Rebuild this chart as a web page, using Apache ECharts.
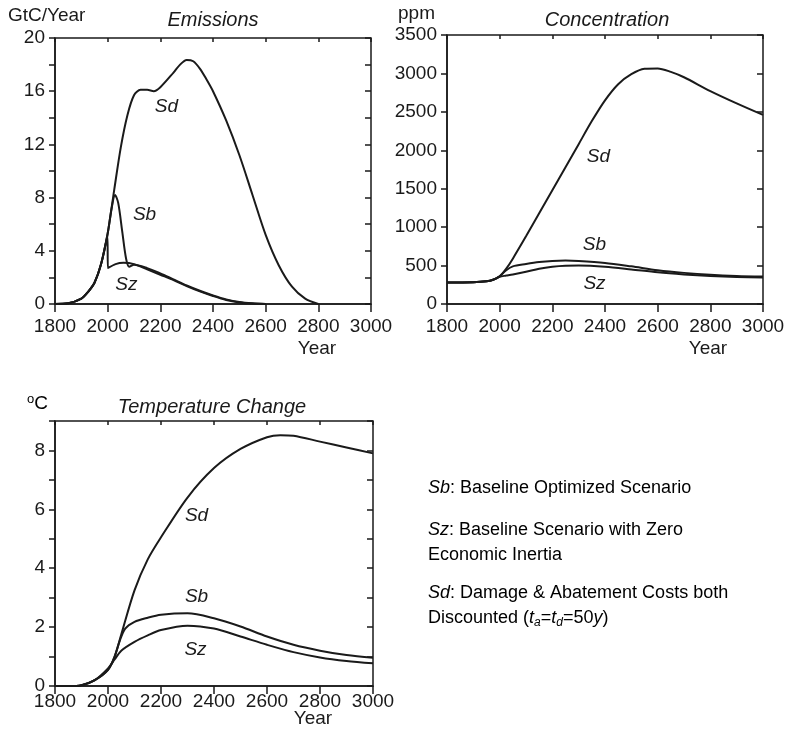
<!DOCTYPE html>
<html>
<head>
<meta charset="utf-8">
<script src="https://cdn.jsdelivr.net/npm/echarts@6/dist/echarts.min.js"></script>
<style>html,body{margin:0;padding:0;background:#fff;}#c{width:791px;height:733px;}</style>
</head>
<body>
<div id="c"></div>
<script>
// ---------- DATA ----------
const xTickYears = [1800, 2000, 2200, 2400, 2600, 2800, 3000];

// Emissions (GtC/Year)
const emisSdYears  = [1800,1850,1900,1925,1950,1975,2000,2025,2050,2075,2100,2125,2150,2175,2200,2250,2275,2300,2325,2350,2375,2400,2450,2500,2550,2600,2650,2700,2750,2800];
const emisSdValues = [0,0.05,0.4,0.9,1.6,3.0,5.3,8.6,11.8,14.2,15.7,16.1,16.1,16.0,16.3,17.4,18.0,18.35,18.25,17.7,16.9,16.0,13.8,11.2,8.2,5.2,2.9,1.3,0.4,0];
const emisSbYears  = [1800,1850,1900,1925,1950,1975,2000,2015,2028,2040,2055,2070,2082,2100,2150,2200,2250,2300,2350,2400,2450,2500,2550,2600];
const emisSbValues = [0,0.05,0.4,0.9,1.6,3.0,5.3,7.2,8.2,7.6,5.5,3.4,2.8,2.95,2.7,2.3,1.85,1.4,1.0,0.65,0.35,0.15,0.05,0];
const emisSzYears  = [1800,1850,1900,1925,1950,1975,1999,2001,2030,2060,2100,2150,2200,2250,2300,2350,2400,2450,2500,2550,2600];
const emisSzValues = [0,0.05,0.4,0.9,1.6,3.0,5.1,2.7,3.0,3.1,3.0,2.6,2.2,1.8,1.35,0.95,0.6,0.3,0.12,0.03,0];

// Concentration (ppm)
const concSdYears  = [1800,1900,1950,1975,2000,2025,2050,2100,2150,2200,2250,2300,2350,2400,2450,2500,2550,2600,2650,2700,2800,2900,3000];
const concSdValues = [280,283,295,315,360,460,590,880,1180,1480,1780,2080,2380,2650,2860,2990,3060,3065,3020,2950,2770,2610,2460];
const concSbYears  = [1800,1900,1950,1975,2000,2025,2050,2100,2150,2200,2250,2300,2400,2500,2600,2700,2800,2900,3000];
const concSbValues = [280,283,295,315,360,440,490,520,545,560,565,560,535,490,440,405,380,365,358];
const concSzYears  = [1800,1900,1950,1975,2000,2025,2050,2100,2150,2200,2250,2300,2400,2500,2600,2700,2800,2900,3000];
const concSzValues = [280,283,295,315,355,370,385,420,460,485,498,500,485,450,412,385,365,352,345];

// Temperature change (°C)
const tempSdYears  = [1800,1850,1900,1950,2000,2025,2050,2100,2150,2200,2300,2400,2500,2600,2650,2700,2800,2900,3000];
const tempSdValues = [0,0,0.03,0.2,0.55,1.0,1.75,3.25,4.3,5.05,6.4,7.4,8.05,8.45,8.52,8.5,8.3,8.1,7.9];
const tempSbYears  = [1800,1850,1900,1950,2000,2025,2045,2065,2100,2150,2200,2300,2400,2500,2600,2700,2800,2900,3000];
const tempSbValues = [0,0,0.03,0.2,0.55,1.0,1.55,1.95,2.18,2.32,2.42,2.47,2.3,2.02,1.68,1.4,1.2,1.05,0.96];
const tempSzYears  = [1800,1850,1900,1950,2000,2025,2050,2100,2150,2200,2300,2400,2500,2600,2700,2800,2900,3000];
const tempSzValues = [0,0,0.03,0.2,0.6,0.9,1.2,1.5,1.72,1.9,2.05,1.95,1.68,1.4,1.15,0.97,0.85,0.77];

// Curve name labels, in data coordinates [year, value, name]
const emisLabels = [[2225, 14.8, 'Sd'], [2142, 6.7, 'Sb'], [2073, 1.4, 'Sz']];
const concLabels = [[2377, 1905, 'Sd'], [2362, 765, 'Sb'], [2362, 260, 'Sz']];
const tempLabels = [[2336, 5.76, 'Sd'], [2336, 3.0, 'Sb'], [2332, 1.22, 'Sz']];

// ---------- BUILD ----------
const FONT = '"Liberation Sans", Arial, Helvetica, sans-serif';
const INK = '#1a1a1a';
const zip = (xs, ys) => xs.map((x, i) => [x, ys[i]]);

const grids = [
  {left: 55, right: 420, top: 38, bottom: 429},
  {left: 447, right: 28, top: 35, bottom: 429},
  {left: 55, right: 418, top: 421, bottom: 47}
].map(g => Object.assign({show: true, borderColor: INK, borderWidth: 1.5, backgroundColor: 'transparent'}, g));

function xAxes(gi, margin) {
  const base = {type: 'value', gridIndex: gi, min: xTickYears[0], max: xTickYears[xTickYears.length - 1],
    interval: xTickYears[1] - xTickYears[0], splitLine: {show: false}};
  return [
    Object.assign({}, base, {
      axisLine: {show: true, onZero: false, lineStyle: {color: INK, width: 1.5}},
      axisTick: {show: true, inside: false, length: 8, lineStyle: {color: INK, width: 1.5}},
      axisLabel: {show: true, margin: margin, color: INK, fontSize: 19, fontFamily: FONT,
        showMinLabel: true, showMaxLabel: true, formatter: v => String(v)}
    }),
    Object.assign({}, base, {
      axisLine: {show: false, onZero: false},
      axisTick: {show: true, inside: true, length: 4, lineStyle: {color: INK, width: 1.5}},
      axisLabel: {show: false}
    })
  ];
}
function yAxes(gi, max, interval, labelEvery) {
  const base = {type: 'value', gridIndex: gi, min: 0, max: max, interval: interval, splitLine: {show: false}};
  return [
    Object.assign({}, base, {
      axisLine: {show: true, onZero: false, lineStyle: {color: INK, width: 1.5}},
      axisTick: {show: true, inside: false, length: 6, lineStyle: {color: INK, width: 1.5}},
      axisLabel: {show: true, margin: 10, color: INK, fontSize: 19, fontFamily: FONT,
        formatter: v => (v % labelEvery === 0 && v <= labelEvery * Math.floor(max / labelEvery)) ? String(v) : ''}
    }),
    Object.assign({}, base, {
      axisLine: {show: false, onZero: false},
      axisTick: {show: true, inside: true, length: 6, lineStyle: {color: INK, width: 1.5}},
      axisLabel: {show: false}
    })
  ];
}

const xs = [], ys = [];
[[0, 13], [1, 13], [2, 6]].forEach(([gi, m]) => {
  const xa = xAxes(gi, m);
  xs[gi] = xa[0]; xs[gi + 3] = xa[1];
});
const ya0 = yAxes(0, 20, 2, 4), ya1 = yAxes(1, 3500, 500, 500), ya2 = yAxes(2, 9, 1, 2);
ys[0] = ya0[0]; ys[3] = ya0[1];
ys[1] = ya1[0]; ys[4] = ya1[1];
ys[2] = ya2[0]; ys[5] = ya2[1];

function line(gi, years, values) {
  return {
    type: 'line', xAxisIndex: gi, yAxisIndex: gi, data: zip(years, values),
    showSymbol: false, symbol: 'none', smooth: 0.3,
    lineStyle: {color: INK, width: 2}, silent: true, z: 3
  };
}
function names(gi, arr) {
  return {
    type: 'scatter', xAxisIndex: gi, yAxisIndex: gi, symbolSize: 1, silent: true,
    itemStyle: {opacity: 0},
    data: arr.map(a => ({value: [a[0], a[1]], name: a[2]})),
    label: {show: true, position: [0, 0], align: 'center', verticalAlign: 'middle',
      formatter: p => p.name, color: INK, opacity: 1, textBorderWidth: 0,
      fontSize: 19, fontStyle: 'italic', fontFamily: FONT}
  };
}

const series = [
  line(0, emisSdYears, emisSdValues), line(0, emisSbYears, emisSbValues), line(0, emisSzYears, emisSzValues),
  line(1, concSdYears, concSdValues), line(1, concSbYears, concSbValues), line(1, concSzYears, concSzValues),
  line(2, tempSdYears, tempSdValues), line(2, tempSbYears, tempSbValues), line(2, tempSzYears, tempSzValues),
  names(0, emisLabels), names(1, concLabels), names(2, tempLabels)
];

const rich = {
  i: {fontStyle: 'italic', fontSize: 18, fontFamily: FONT, color: INK},
  n: {fontSize: 18, fontFamily: FONT, color: INK},
  sub: {fontStyle: 'italic', fontSize: 12, fontFamily: FONT, color: INK, verticalAlign: 'bottom', padding: [10, 0, 0, 0]}
};

const graphic = [
  // unit labels
  {type: 'text', left: 8, top: 6, style: {text: 'GtC/Year', fill: INK, font: '19px ' + FONT}},
  {type: 'text', left: 398, top: 4, style: {text: 'ppm', fill: INK, font: '19px ' + FONT}},
  {type: 'text', left: 27, top: 393, style: {
    text: '{s|o}{c|C}', rich: {s: {fontSize: 13, fontFamily: FONT, color: INK, verticalAlign: 'top', padding: [0, 0, 8, 0]}, c: {fontSize: 19, fontFamily: FONT, color: INK}}}},
  // panel titles
  {type: 'text', x: 213, y: 20, style: {text: 'Emissions', fill: INK, font: 'italic 20px ' + FONT, textAlign: 'center', textVerticalAlign: 'middle'}},
  {type: 'text', x: 607, y: 20, style: {text: 'Concentration', fill: INK, font: 'italic 20px ' + FONT, textAlign: 'center', textVerticalAlign: 'middle'}},
  {type: 'text', x: 212, y: 407, style: {text: 'Temperature Change', fill: INK, font: 'italic 20px ' + FONT, textAlign: 'center', textVerticalAlign: 'middle'}},
  // "Year" axis names
  {type: 'text', x: 317, y: 349, style: {text: 'Year', fill: INK, font: '19px ' + FONT, textAlign: 'center', textVerticalAlign: 'middle'}},
  {type: 'text', x: 708, y: 349, style: {text: 'Year', fill: INK, font: '19px ' + FONT, textAlign: 'center', textVerticalAlign: 'middle'}},
  {type: 'text', x: 313, y: 719, style: {text: 'Year', fill: INK, font: '19px ' + FONT, textAlign: 'center', textVerticalAlign: 'middle'}},
  // legend notes
  {type: 'text', left: 428, top: 479, style: {text: '{i|Sb}{n|: Baseline Optimized Scenario}', rich: rich}},
  {type: 'text', left: 428, top: 521, style: {text: '{i|Sz}{n|: Baseline Scenario with Zero}', rich: rich}},
  {type: 'text', left: 428, top: 546, style: {text: '{n|Economic Inertia}', rich: rich}},
  {type: 'text', left: 428, top: 584, style: {text: '{i|Sd}{n|: Damage & Abatement Costs both}', rich: rich}},
  {type: 'text', left: 428, top: 609, style: {text: '{n|Discounted (}{i|t}{sub|a}{n|=}{i|t}{sub|d}{n|=50}{i|y}{n|)}', rich: rich}}
];

const chart = echarts.init(document.getElementById('c'), null, {renderer: 'canvas'});
chart.setOption({
  animation: false,
  backgroundColor: '#ffffff',
  textStyle: {fontFamily: FONT},
  grid: grids,
  xAxis: xs,
  yAxis: ys,
  series: series,
  graphic: graphic
});
</script>
</body>
</html>
